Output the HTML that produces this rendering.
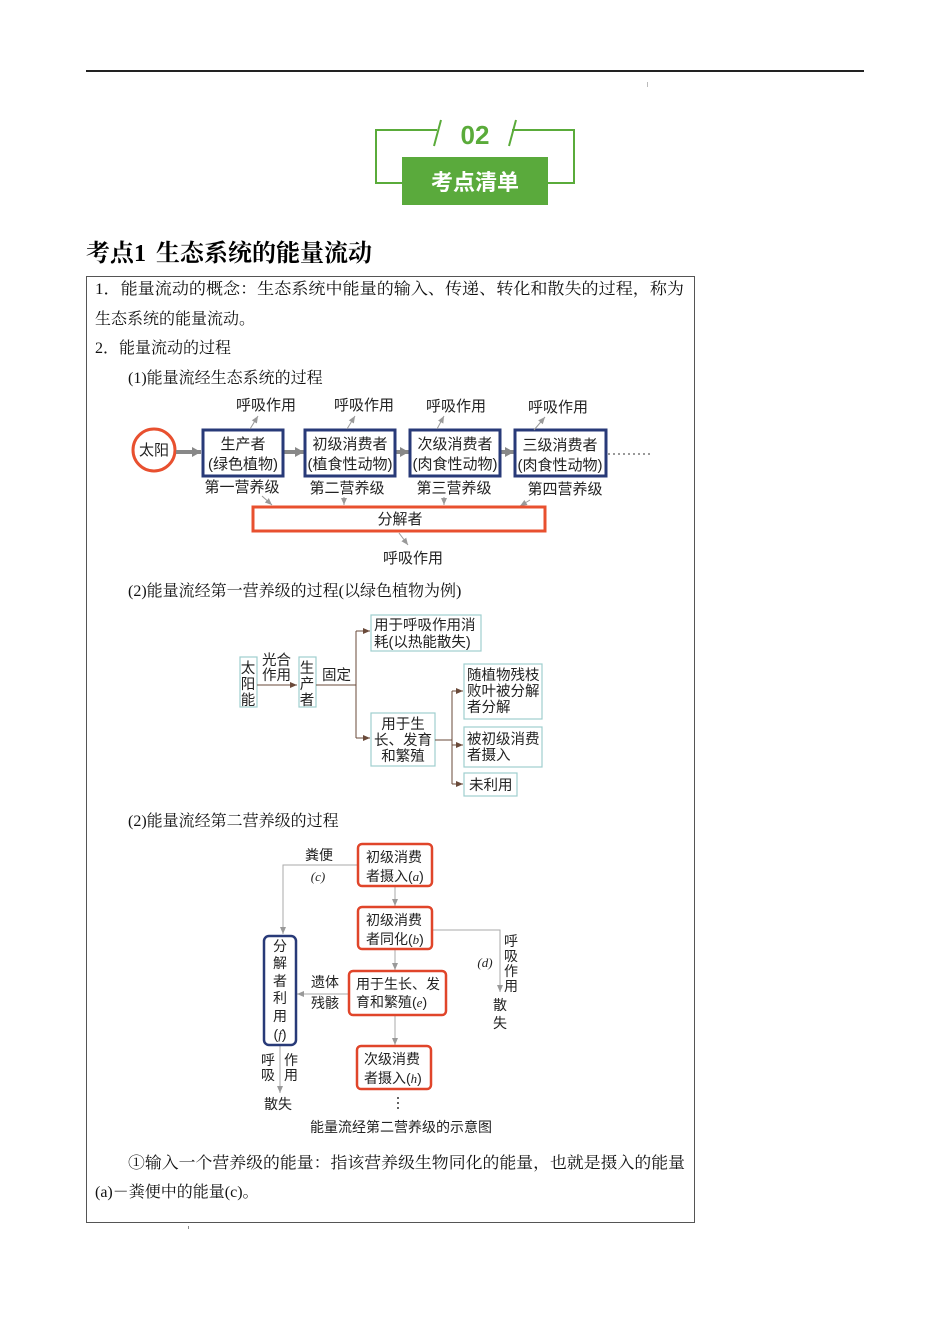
<!DOCTYPE html>
<html><head><meta charset="utf-8"><style>
html,body{margin:0;padding:0;background:#fff;}
svg{display:block;}
.s{font-family:"Liberation Serif","Noto Serif CJK SC",serif;font-size:16px;fill:#111;}
.d{font-family:"Liberation Sans","Noto Sans CJK SC",sans-serif;font-size:14.5px;fill:#222;}
.d1{font-family:"Liberation Sans","Noto Sans CJK SC",sans-serif;font-size:15px;fill:#222;}
.d2{font-family:"Liberation Sans","Noto Sans CJK SC",sans-serif;font-size:14px;fill:#222;}
.i{font-family:"Liberation Serif",serif;font-style:italic;font-size:13px;fill:#222;}
</style></head><body>
<svg width="950" height="1344" viewBox="0 0 950 1344" xmlns="http://www.w3.org/2000/svg">
<defs>
<marker id="ag" markerWidth="8" markerHeight="8" refX="7" refY="4" orient="auto" markerUnits="userSpaceOnUse"><path d="M0,1 L7,4 L0,7 z" fill="#999"/></marker>
<marker id="ab" markerWidth="8" markerHeight="8" refX="7" refY="4" orient="auto" markerUnits="userSpaceOnUse"><path d="M0,1 L7,4 L0,7 z" fill="#6a4a3a"/></marker>
<marker id="at" markerWidth="12" markerHeight="12" refX="9" refY="6" orient="auto" markerUnits="userSpaceOnUse"><path d="M0,1 L9,6 L0,11 z" fill="#888"/></marker>
</defs>
<rect x="86" y="70" width="778" height="2" fill="#222"/>
<rect x="647" y="82" width="1" height="5" fill="#bbb"/>
<g stroke="#5aab3a" stroke-width="2" fill="none">
<polyline points="402,183 376,183 376,130 437,130"/>
<line x1="441" y1="120" x2="434" y2="146"/>
<polyline points="548,183 574,183 574,130 512,130"/>
<line x1="516" y1="120" x2="509" y2="146"/>
</g>
<text x="475" y="144" text-anchor="middle" font-family="Liberation Sans,sans-serif" font-weight="bold" font-size="26" fill="#5aab3a">02</text>
<rect x="402" y="157" width="146" height="48" fill="#5aaa3c"/>
<text x="475" y="190" text-anchor="middle" font-family="Liberation Sans,'Noto Sans CJK SC',sans-serif" font-weight="bold" font-size="22" fill="#fff">考点清单</text>
<text x="86" y="261" font-family="Liberation Serif,'Noto Serif CJK SC',serif" font-weight="bold" font-size="24" fill="#000">考点1<tspan dx="10">生态系统的能量流动</tspan></text>
<rect x="86.5" y="276.5" width="608" height="946" fill="none" stroke="#555" stroke-width="1"/>
<text class="s" x="95" y="294" textLength="589" lengthAdjust="spacingAndGlyphs">1．能量流动的概念：生态系统中能量的输入、传递、转化和散失的过程，称为</text>
<text class="s" x="95" y="324">生态系统的能量流动。</text>
<text class="s" x="95" y="353">2．能量流动的过程</text>
<text class="s" x="128" y="383">(1)能量流经生态系统的过程</text>

<circle cx="154" cy="450" r="21" fill="#fff" stroke="#e8502f" stroke-width="3"/>
<text class="d1" x="154" y="455" text-anchor="middle">太阳</text>
<g stroke="#888" stroke-width="4" marker-end="url(#at)">
<line x1="176" y1="452" x2="201" y2="452"/>
<line x1="284" y1="452" x2="304" y2="452"/>
<line x1="396" y1="452" x2="409" y2="452"/>
<line x1="501" y1="452" x2="514" y2="452"/>
</g>
<line x1="608" y1="454" x2="652" y2="454" stroke="#999" stroke-width="2" stroke-dasharray="2,3"/>
<g fill="#fff" stroke="#283a78" stroke-width="3">
<rect x="203" y="430" width="80" height="46"/>
<rect x="305" y="430" width="90" height="46"/>
<rect x="410" y="430" width="90" height="46"/>
<rect x="515" y="430" width="91" height="46"/>
</g>
<g class="d1" text-anchor="middle">
<text x="243" y="449">生产者</text><text x="243" y="469">(绿色植物)</text>
<text x="350" y="449">初级消费者</text><text x="350" y="469">(植食性动物)</text>
<text x="455" y="449">次级消费者</text><text x="455" y="469">(肉食性动物)</text>
<text x="560" y="450">三级消费者</text><text x="560" y="470">(肉食性动物)</text>
<text x="266" y="410">呼吸作用</text><text x="364" y="410">呼吸作用</text>
<text x="456" y="411">呼吸作用</text><text x="558" y="412">呼吸作用</text>
<text x="242" y="492">第一营养级</text><text x="347" y="493">第二营养级</text>
<text x="454" y="493">第三营养级</text><text x="565" y="494">第四营养级</text>
<text x="413" y="563">呼吸作用</text>
</g>
<g stroke="#999" stroke-width="1" marker-end="url(#ag)">
<line x1="250" y1="429" x2="258" y2="416"/>
<line x1="347" y1="429" x2="355" y2="416"/>
<line x1="437" y1="429" x2="444" y2="416"/>
<line x1="534" y1="430" x2="545" y2="417"/>
<line x1="262" y1="496" x2="272" y2="505"/>
<line x1="344" y1="497" x2="344" y2="505"/>
<line x1="444" y1="497" x2="444" y2="505"/>
<line x1="530" y1="500" x2="520" y2="506"/>
<line x1="399" y1="533" x2="408" y2="545"/>
</g>
<rect x="253" y="507" width="292" height="24" fill="#fff" stroke="#e8502f" stroke-width="3"/>
<text class="d1" x="400" y="524" text-anchor="middle">分解者</text>

<text class="s" x="128" y="596">(2)能量流经第一营养级的过程(以绿色植物为例)</text>
<g fill="#fff" stroke="#9fcfcf" stroke-width="1.2">
<rect x="240" y="657" width="17" height="50"/>
<rect x="299" y="657" width="17" height="50"/>
<rect x="371" y="615" width="110" height="36"/>
<rect x="371" y="713" width="64" height="53"/>
<rect x="464" y="664" width="78" height="55"/>
<rect x="464" y="727" width="78" height="40"/>
<rect x="464" y="773" width="53" height="23"/>
</g>
<g stroke="#6a4a3a" stroke-width="1" fill="none">
<line x1="257" y1="685" x2="297" y2="685" marker-end="url(#ab)"/>
<line x1="316" y1="685" x2="356" y2="685"/>
<line x1="356" y1="631" x2="356" y2="738"/>
<line x1="356" y1="631" x2="370" y2="631" marker-end="url(#ab)"/>
<line x1="356" y1="738" x2="370" y2="738" marker-end="url(#ab)"/>
<line x1="435" y1="740" x2="452" y2="740"/>
<line x1="452" y1="691" x2="452" y2="784"/>
<line x1="452" y1="691" x2="463" y2="691" marker-end="url(#ab)"/>
<line x1="452" y1="745" x2="463" y2="745" marker-end="url(#ab)"/>
<line x1="452" y1="784" x2="463" y2="784" marker-end="url(#ab)"/>
</g>
<g class="d">
<text x="248" y="673" text-anchor="middle">太</text><text x="248" y="689" text-anchor="middle">阳</text><text x="248" y="705" text-anchor="middle">能</text>
<text x="307" y="673" text-anchor="middle">生</text><text x="307" y="689" text-anchor="middle">产</text><text x="307" y="705" text-anchor="middle">者</text>
<text x="262" y="665">光合</text><text x="262" y="680">作用</text>
<text x="322" y="680">固定</text>
<text x="374" y="630">用于呼吸作用消</text><text x="374" y="647">耗(以热能散失)</text>
<text x="403" y="729" text-anchor="middle">用于生</text><text x="403" y="745" text-anchor="middle">长、发育</text><text x="403" y="761" text-anchor="middle">和繁殖</text>
<text x="467" y="680">随植物残枝</text><text x="467" y="696">败叶被分解</text><text x="467" y="712">者分解</text>
<text x="467" y="744">被初级消费</text><text x="467" y="760">者摄入</text>
<text x="469" y="790">未利用</text>
</g>

<text class="s" x="128" y="826">(2)能量流经第二营养级的过程</text>
<g stroke="#aaa" stroke-width="1" fill="none">
<polyline points="358,865 283,865 283,934" marker-end="url(#ag)"/>
<line x1="395" y1="886" x2="395" y2="906" marker-end="url(#ag)"/>
<polyline points="432,930 500,930 500,992" marker-end="url(#ag)"/>
<line x1="395" y1="949" x2="395" y2="970" marker-end="url(#ag)"/>
<line x1="349" y1="994" x2="297" y2="994" marker-end="url(#ag)"/>
<line x1="395" y1="1015" x2="395" y2="1045" marker-end="url(#ag)"/>
<line x1="280" y1="1046" x2="280" y2="1093" marker-end="url(#ag)"/>
</g>
<g fill="#fff" stroke="#e0452a" stroke-width="2.5">
<rect x="358" y="844" width="74" height="42" rx="4"/>
<rect x="358" y="907" width="74" height="42" rx="4"/>
<rect x="349" y="971" width="97" height="44" rx="4"/>
<rect x="357" y="1046" width="74" height="43" rx="4"/>
</g>
<rect x="264" y="936" width="32" height="109" rx="5" fill="#fff" stroke="#283a78" stroke-width="2.5"/>
<g class="d2">
<text x="366" y="862">初级消费</text><text x="366" y="881">者摄入(<tspan class="i">a</tspan>)</text>
<text x="366" y="925">初级消费</text><text x="366" y="944">者同化(<tspan class="i">b</tspan>)</text>
<text x="356" y="989">用于生长、发</text><text x="356" y="1007">育和繁殖(<tspan class="i">e</tspan>)</text>
<text x="364" y="1064">次级消费</text><text x="364" y="1083">者摄入(<tspan class="i">h</tspan>)</text>
<text x="280" y="951" text-anchor="middle">分</text><text x="280" y="968" text-anchor="middle">解</text><text x="280" y="986" text-anchor="middle">者</text><text x="280" y="1003" text-anchor="middle">利</text><text x="280" y="1021" text-anchor="middle">用</text>
<text x="280" y="1039" text-anchor="middle">(<tspan class="i">f</tspan>)</text>
<text x="305" y="860">粪便</text>
<text x="318" y="881" text-anchor="middle" class="i">(c)</text>
<text x="311" y="987">遗体</text><text x="311" y="1008">残骸</text>
<text x="485" y="967" text-anchor="middle" class="i">(d)</text>
<text x="511" y="946" text-anchor="middle">呼</text><text x="511" y="961" text-anchor="middle">吸</text><text x="511" y="976" text-anchor="middle">作</text><text x="511" y="991" text-anchor="middle">用</text>
<text x="500" y="1010" text-anchor="middle">散</text><text x="500" y="1028" text-anchor="middle">失</text>
<text x="268" y="1065" text-anchor="middle">呼</text><text x="268" y="1080" text-anchor="middle">吸</text>
<text x="291" y="1065" text-anchor="middle">作</text><text x="291" y="1080" text-anchor="middle">用</text>
<text x="278" y="1109" text-anchor="middle">散失</text>
<text x="401" y="1132" text-anchor="middle">能量流经第二营养级的示意图</text>
</g>
<g fill="#333"><circle cx="398" cy="1098" r="1"/><circle cx="398" cy="1103" r="1"/><circle cx="398" cy="1108" r="1"/></g>

<text class="s" x="128" y="1168" textLength="557" lengthAdjust="spacingAndGlyphs">①输入一个营养级的能量：指该营养级生物同化的能量，也就是摄入的能量</text>
<text class="s" x="95" y="1197">(a)－粪便中的能量(c)。</text>
<rect x="188" y="1226" width="1" height="3" fill="#888"/>
</svg>
</body></html>
